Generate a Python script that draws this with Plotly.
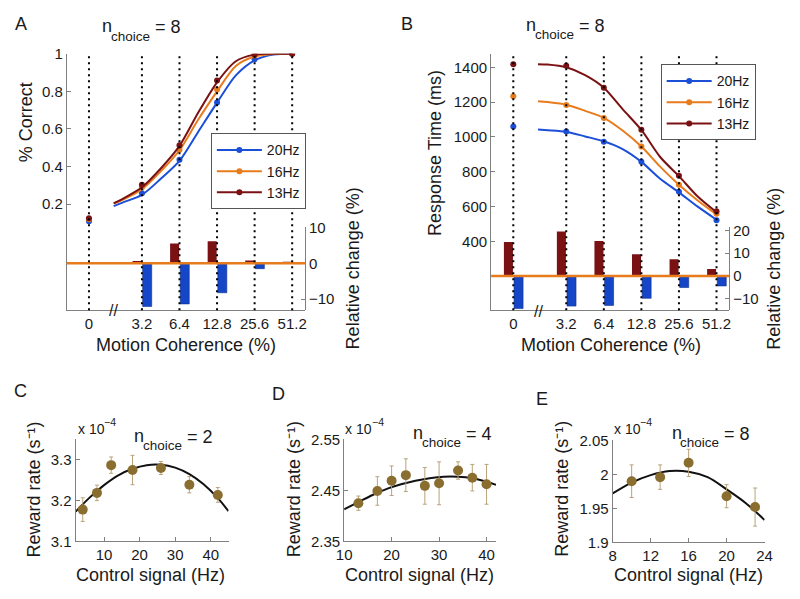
import math
import plotly.graph_objects as go

W, H = 800, 599
FONT = "Liberation Sans, Arial, sans-serif"
TXT = "#1a1a1a"
AXC = "#808080"

# ---------------- data ----------------
coherence = [0, 3.2, 6.4, 12.8, 25.6, 51.2]
coh_labels = ["0", "3.2", "6.4", "12.8", "25.6", "51.2"]
series_names = ["20Hz", "16Hz", "13Hz"]
series_colors = ["#1c4fd8", "#e87b1c", "#7a1214"]

# Panel A: accuracy
acc_20 = [0.11, 0.258, 0.436, 0.74, 0.97, 1.0]
acc_16 = [0.12, 0.29, 0.489, 0.81, 0.99, 1.0]
acc_13 = [0.125, 0.304, 0.513, 0.858, 0.996, 1.0]

# fitted curves, read at these coherence values
fit_coh = [1.9, 2.26, 3.2, 4.53, 6.4, 9.05, 12.8, 18.1, 25.6, 36.2, 51.2]
accfit_20 = [0.19, 0.21, 0.25, 0.335, 0.43, 0.585, 0.74, 0.885, 0.965, 0.995, 1.0]
accfit_16 = [0.205, 0.225, 0.28, 0.375, 0.487, 0.65, 0.80, 0.935, 0.985, 0.999, 1.0]
accfit_13 = [0.205, 0.23, 0.29, 0.39, 0.51, 0.687, 0.848, 0.96, 0.995, 1.0, 1.0]

# Panel A: relative change (%)
accrel_13 = [0.0, 0.6, 5.5, 6.1, 0.8, 0.2]
accrel_20 = [0.0, -12.0, -11.3, -8.2, -1.5, -0.1]

# Panel B: response time (ms)
rt_20 = [1060, 1032, 973, 858, 685, 522]
rt_16 = [1233, 1183, 1109, 945, 726, 559]
rt_13 = [1418, 1409, 1283, 1042, 778, 574]

rtfit_20 = [1043, 1039, 1030, 1003, 975, 930, 857, 760, 682, 600, 525]
rtfit_16 = [1205, 1200, 1185, 1150, 1110, 1037, 945, 830, 726, 635, 555]
rtfit_13 = [1418, 1416, 1400, 1355, 1283, 1160, 1040, 885, 775, 658, 568]

# Panel B: relative change (%)
rtrel_13 = [14.9, 19.5, 15.3, 9.5, 7.4, 3.1]
rtrel_20 = [-14.2, -13.1, -12.8, -9.7, -5.0, -4.3]

# Panels C-E: reward rate (x 1e-4 s^-1)
c_x = [4, 8, 12, 18, 26, 34, 42]
c_y = [3.178, 3.219, 3.287, 3.275, 3.280, 3.239, 3.214]
c_err = [0.029, 0.019, 0.020, 0.036, 0.016, 0.020, 0.018]
c_fit_x = [2, 6, 10, 14, 18, 22, 26, 30, 34, 38, 42, 45]
c_fit_y = [3.173, 3.208, 3.238, 3.262, 3.278, 3.287, 3.288, 3.281, 3.265, 3.240, 3.206, 3.174]

d_x = [13, 17, 20, 23, 27, 30, 34, 37, 40]
d_y = [2.425, 2.449, 2.469, 2.480, 2.459, 2.464, 2.489, 2.475, 2.462]
d_err = [0.014, 0.028, 0.029, 0.032, 0.036, 0.042, 0.017, 0.026, 0.039]
d_fit_x = [10, 13, 16, 19, 22, 25, 28, 31, 34, 37, 40, 42]
d_fit_y = [2.413, 2.427, 2.441, 2.453, 2.462, 2.469, 2.474, 2.477, 2.477, 2.474, 2.467, 2.461]

e_x = [10, 13, 16, 20, 23]
e_y = [1.990, 1.996, 2.017, 1.968, 1.952]
e_err = [0.024, 0.018, 0.020, 0.017, 0.028]
e_fit_x = [8, 10, 12, 14, 16, 18, 20, 22, 24]
e_fit_y = [1.972, 1.988, 1.999, 2.005, 2.004, 1.996, 1.978, 1.958, 1.933]

n_choice = [8, 8, 2, 4, 8]  # panels A-E

ZERO_POS = -1.41  # broken-axis position of 0% coherence


def cpos(c):
    return math.log2(c / 3.2) if c > 0 else ZERO_POS


coh_pos = [cpos(c) for c in coherence]
fit_pos = [cpos(c) for c in fit_coh]


def xd(p0, p1):
    return [p0 / W, p1 / W]


def yd(top, bottom):
    return [1 - bottom / H, 1 - top / H]


fig = go.Figure()

acc_pts = [acc_20, acc_16, acc_13]
acc_fits = [accfit_20, accfit_16, accfit_13]
rt_pts = [rt_20, rt_16, rt_13]
rt_fits = [rtfit_20, rtfit_16, rtfit_13]

for i, (nm, col) in enumerate(zip(series_names, series_colors)):
    # Panel A
    fig.add_trace(go.Scatter(x=fit_pos, y=acc_fits[i], mode="lines",
                             line=dict(color=col, width=2, shape="spline", smoothing=0.8),
                             xaxis="x", yaxis="y", showlegend=False, hoverinfo="skip"))
    fig.add_trace(go.Scatter(x=coh_pos, y=acc_pts[i], mode="markers",
                             marker=dict(color=col, size=6),
                             xaxis="x", yaxis="y", showlegend=False))
    fig.add_trace(go.Scatter(x=[None], y=[None], mode="lines+markers", name=nm,
                             line=dict(color=col, width=2), marker=dict(color=col, size=6),
                             xaxis="x", yaxis="y", legend="legend"))
    # Panel B
    fig.add_trace(go.Scatter(x=fit_pos, y=rt_fits[i], mode="lines",
                             line=dict(color=col, width=2, shape="spline", smoothing=0.8),
                             xaxis="x3", yaxis="y3", showlegend=False, hoverinfo="skip"))
    fig.add_trace(go.Scatter(x=coh_pos, y=rt_pts[i], mode="markers",
                             marker=dict(color=col, size=6),
                             xaxis="x3", yaxis="y3", showlegend=False))
    fig.add_trace(go.Scatter(x=[None], y=[None], mode="lines+markers", name=nm,
                             line=dict(color=col, width=2), marker=dict(color=col, size=6),
                             xaxis="x3", yaxis="y3", legend="legend2"))

# relative-change bars
BW = 0.24
for xa, ya, red, blue in [("x", "y2", accrel_13, accrel_20), ("x3", "y4", rtrel_13, rtrel_20)]:
    fig.add_trace(go.Bar(x=coh_pos, y=red, offset=-0.25, width=BW, xaxis=xa, yaxis=ya,
                         marker=dict(color="#7a1214", line=dict(width=0)), showlegend=False))
    fig.add_trace(go.Bar(x=coh_pos, y=blue, offset=0.02, width=BW, xaxis=xa, yaxis=ya,
                         marker=dict(color="#1646c8", line=dict(color="#0d2f8a", width=0.6)),
                         showlegend=False))

# Panels C-E
PT = "#8a6e30"
EB = "#b9a37a"
for xa, ya, px, py, pe, fx, fy in [("x5", "y5", c_x, c_y, c_err, c_fit_x, c_fit_y),
                                    ("x6", "y6", d_x, d_y, d_err, d_fit_x, d_fit_y),
                                    ("x7", "y7", e_x, e_y, e_err, e_fit_x, e_fit_y)]:
    fig.add_trace(go.Scatter(x=fx, y=fy, mode="lines",
                             line=dict(color="#111111", width=2, shape="spline", smoothing=1.0),
                             xaxis=xa, yaxis=ya, showlegend=False))
    fig.add_trace(go.Scatter(x=px, y=py, mode="markers",
                             marker=dict(color=PT, size=10),
                             error_y=dict(type="data", array=pe, color=EB, thickness=1, width=2),
                             xaxis=xa, yaxis=ya, showlegend=False))

tickfont = dict(family=FONT, size=15, color=TXT)
base = dict(showgrid=False, zeroline=False, showline=True, linecolor=AXC, linewidth=1,
            tickfont=tickfont, ticks="inside", ticklen=4, tickcolor=AXC)

layout_axes = dict(
    xaxis=dict(base, domain=xd(60, 303), range=[-2.0, 4.34], anchor="y",
               tickvals=coh_pos, ticktext=coh_labels, ticks=""),
    yaxis=dict(base, domain=yd(46, 310), range=[-0.363, 1.0], anchor="x",
               tickvals=[0.2, 0.4, 0.6, 0.8, 1.0], ticktext=["0.2", "0.4", "0.6", "0.8", "1"]),
    yaxis2=dict(base, domain=yd(224, 310), range=[-13.05, 10.19], anchor="x", side="right",
                tickvals=[-10, 0, 10]),
    xaxis3=dict(base, domain=xd(493, 736), range=[-2.0, 4.34], anchor="y3",
                tickvals=coh_pos, ticktext=coh_labels, ticks=""),
    yaxis3=dict(base, domain=yd(46.7, 310), range=[5.7, 1474], anchor="x3",
                tickvals=[400, 600, 800, 1000, 1200, 1400]),
    yaxis4=dict(base, domain=yd(224, 310), range=[-14.9, 21.6], anchor="x3", side="right",
                tickvals=[-10, 0, 10, 20]),
    xaxis5=dict(base, domain=xd(69, 225), range=[2, 45], anchor="y5", tickvals=[10, 20, 30, 40]),
    yaxis5=dict(base, domain=yd(443, 548), range=[3.1, 3.35], anchor="x5",
                tickvals=[3.1, 3.2, 3.3], ticktext=["3.1", "3.2", "3.3"]),
    xaxis6=dict(base, domain=xd(343, 498), range=[10, 42], anchor="y6", tickvals=[10, 20, 30, 40]),
    yaxis6=dict(base, domain=yd(443, 548), range=[2.35, 2.55], anchor="x6",
                tickvals=[2.35, 2.45, 2.55], ticktext=["2.35", "2.45", "2.55"]),
    xaxis7=dict(base, domain=xd(617, 772), range=[8, 24], anchor="y7", tickvals=[8, 12, 16, 20, 24]),
    yaxis7=dict(base, domain=yd(444, 549), range=[1.9, 2.05], anchor="x7",
                tickvals=[1.9, 1.95, 2.0, 2.05], ticktext=["1.9", "1.95", "2", "2.05"]),
)

shapes = []
for ya, xa, ydom in [("y2", "x", "y domain"), ("y4", "x3", "y3 domain")]:
    shapes.append(dict(type="line", xref=xa + " domain", yref=ya, x0=0, x1=1, y0=0, y1=0,
                       line=dict(color="#e87b1c", width=2.5), layer="above"))
    for p in coh_pos:
        shapes.append(dict(type="line", xref=xa, yref=ydom, x0=p, x1=p, y0=0, y1=1,
                           line=dict(color="black", width=2, dash="2px,4px"), layer="above"))

annotations = []


def ann(text, x, y, size, angle=0, xanchor="center", yanchor="middle"):
    annotations.append(dict(text=text, x=x / W, y=1 - y / H,
                            xref="paper", yref="paper", showarrow=False, textangle=angle,
                            xanchor=xanchor, yanchor=yanchor,
                            font=dict(family=FONT, size=size, color=TXT)))


# panel letters
ann("A", 13, 15, 18)
ann("B", 407, 15, 18)
ann("C", 13, 393, 18)
ann("D", 276, 396, 18)
ann("E", 545, 401, 18)

# n_choice titles: "n", subscript "choice", "= k"
for n, (nx, ny) in zip(n_choice, [(94, 19), (527, 17), (127, 440), (411, 437), (675, 437)]):
    ann("n", nx, ny - 1, 18, xanchor="left")
    ann("choice", nx + 9, ny + 9, 13.5, xanchor="left")
    ann(f"= {n}", nx + 54, ny, 18, xanchor="left")

# axis titles (panels A, B)
ann("% Correct", 18, 117, 18, angle=-90)
ann("Response Time (ms)", 435, 148, 18, angle=-90)
ann("Relative change (%)", 352, 267, 18, angle=-90)
ann("Relative change (%)", 782, 267, 18, angle=-90)
ann("Motion Coherence (%)", 182, 346, 18)
ann("Motion Coherence (%)", 615, 346, 18)

# axis break marks
annotations.append(dict(text="//", x=-0.77, xref="x", y=1 - 310 / H, yref="paper",
                        showarrow=False, font=dict(family=FONT, size=16, color=TXT)))
annotations.append(dict(text="//", x=-0.74, xref="x3", y=1 - 311 / H, yref="paper",
                        showarrow=False, font=dict(family=FONT, size=16, color=TXT)))

# panels C-E texts
for cx, xl, yl in [(27, 70, 145), (292, 343, 420), (565, 617, 694)]:
    ann("Reward rate (s⁻¹)", cx, 494, 18, angle=-90)
    ann("x 10", xl - 1, 432, 14, xanchor="left")
    ann("−4", xl + 26, 425, 10.5, xanchor="left")
    ann("Control signal (Hz)", yl, 583, 18)

legend_common = dict(bgcolor="white", bordercolor="#555555", borderwidth=1,
                     font=dict(family=FONT, size=14, color=TXT), xanchor="left", yanchor="top",
                     traceorder="normal", itemwidth=45, tracegroupgap=2)

fig.update_layout(
    width=W, height=H, autosize=False,
    margin=dict(l=0, r=0, t=0, b=0),
    paper_bgcolor="white", plot_bgcolor="rgba(0,0,0,0)",
    font=dict(family=FONT, color=TXT),
    barmode="overlay",
    shapes=shapes, annotations=annotations,
    legend=dict(legend_common, x=207 / W, y=1 - 128 / H),
    legend2=dict(legend_common, x=666 / W, y=1 - 57 / H),
    **layout_axes,
)

fig.write_html("out.html", config={"displayModeBar": False},
               post_script="document.body.style.margin='0px';document.body.style.overflow='hidden';")
